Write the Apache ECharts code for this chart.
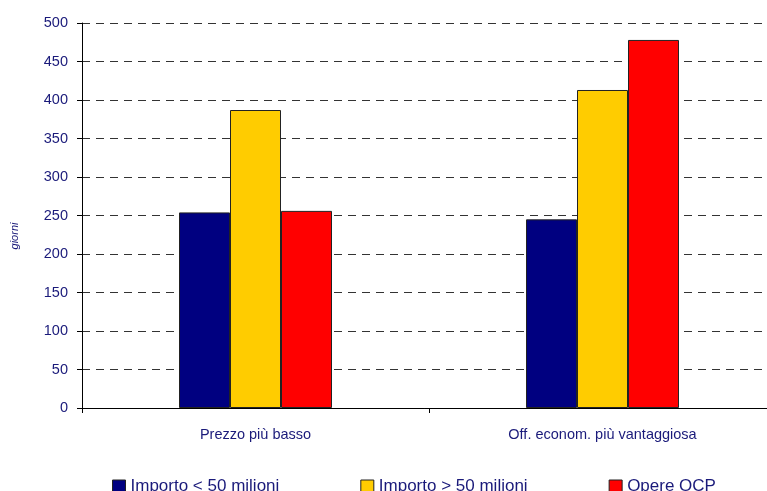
<!DOCTYPE html>
<html>
<head>
<meta charset="utf-8">
<script src="https://cdn.jsdelivr.net/npm/echarts@6/dist/echarts.min.js"></script>
<style>
  html, body { margin: 0; padding: 0; background: #fff; }
  #chart { width: 767px; height: 491px; }
</style>
</head>
<body>
<div id="chart"></div>
<script>
// Durata media (giorni) per criterio di aggiudicazione
const categories = ['Prezzo più basso', 'Off. econom. più vantaggiosa'];
const seriesNames = ['Importo < 50 milioni', 'Importo > 50 milioni', 'Opere OCP'];
const importoSotto50 = [254, 245];
const importoSopra50 = [387, 413];
const opereOCP = [256, 478];
const yTicks = { min: 0, max: 500, step: 50 };
const yAxisTitle = 'giorni';

const navy = '#1a1a7a';
const font = '"Liberation Sans", Arial, sans-serif';
const colors = ['#000080', '#FFCC00', '#FF0000'];
const values = [importoSotto50, importoSopra50, opereOCP];

const chart = echarts.init(document.getElementById('chart'), null, { renderer: 'canvas' });
chart.setOption({
  animation: false,
  backgroundColor: '#ffffff',
  textStyle: { fontFamily: font },
  // plot area runs slightly past the right edge of the canvas
  grid: { left: 82, top: 23, width: 694, height: 385, containLabel: false, outerBoundsMode: 'none' },
  legend: {
    left: 112,
    top: 478,
    padding: 0,
    icon: 'rect',
    itemWidth: 13,
    itemHeight: 13,
    itemGap: 81,
    textStyle: { color: navy, fontSize: 17, fontFamily: font },
    itemStyle: { borderColor: '#222', borderWidth: 1 },
    data: seriesNames
  },
  graphic: [{
    type: 'text',
    x: 15,
    y: 236,
    rotation: Math.PI / 2,
    style: {
      text: yAxisTitle,
      fill: navy,
      font: 'italic 11px ' + font,
      align: 'center',
      verticalAlign: 'middle'
    }
  }],
  xAxis: {
    type: 'category',
    data: categories,
    axisLine: { lineStyle: { color: '#000', width: 1 } },
    axisTick: { show: true, length: 5, lineStyle: { color: '#000' } },
    axisLabel: { color: navy, fontSize: 14.5, margin: 19, fontFamily: font },
    splitLine: { show: false }
  },
  yAxis: {
    type: 'value',
    min: yTicks.min,
    max: yTicks.max,
    interval: yTicks.step,
    axisLine: { show: true, lineStyle: { color: '#000', width: 1 } },
    axisTick: { show: true, length: 5, lineStyle: { color: '#000' } },
    axisLabel: { color: navy, fontSize: 14.5, margin: 14, fontFamily: font },
    splitLine: { show: true, lineStyle: { color: '#333', type: [8, 6], width: 1 } }
  },
  series: seriesNames.map((name, i) => ({
    name,
    type: 'bar',
    data: values[i],
    barWidth: 51,
    barGap: '0%',
    itemStyle: { color: colors[i], borderColor: '#222', borderWidth: 1 }
  }))
});
</script>
</body>
</html>
